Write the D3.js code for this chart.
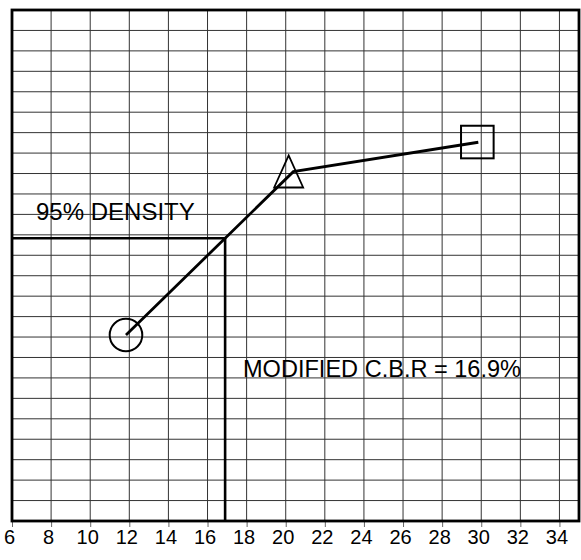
<!DOCTYPE html>
<html>
<head>
<meta charset="utf-8">
<script src="https://cdn.jsdelivr.net/npm/d3@7"></script>
<style>
  html, body { margin: 0; padding: 0; background: #fff; }
  svg { display: block; }
</style>
</head>
<body>
<svg id="chart" width="581" height="560"></svg>
<script>
// ---- data ----
const xTicks = [6, 8, 10, 12, 14, 16, 18, 20, 22, 24, 26, 28, 30, 32, 34];
const xDomain = [6, 35];
const yDomain = [0, 25];
const yGrid = d3.range(1, 25);
const xGrid = [8, 10, 12, 14, 16, 18, 20, 22, 24, 26, 28, 30, 32, 34];

// C.B.R curve (x = CBR %, y = density-axis grid units)
const curveX = [11.83, 20.39, 29.85];
const curveY = [9.1, 17.09, 18.53];
// marker centres and symbols
const markerX = [11.83, 20.15, 29.8];
const markerY = [9.1, 17.1, 18.54];
const markerType = ["circle", "triangle", "square"];

const densityLevel = 13.83;   // 95% density
const cbrValue = 16.9;        // modified CBR
const labelDensity = "95% DENSITY";
const labelCBR = "MODIFIED C.B.R = 16.9%";

// ---- layout ----
const svg = d3.select("#chart");
const L = 12, R = 579, T = 10, B = 521;
const x = d3.scaleLinear().domain(xDomain).range([L, R]);
const y = d3.scaleLinear().domain(yDomain).range([B, T]);

// grid
const g = svg.append("g");
g.selectAll("line.hg").data(yGrid).join("line")
  .attr("class", "hg")
  .attr("x1", L).attr("x2", R)
  .attr("y1", d => y(d)).attr("y2", d => y(d))
  .attr("stroke", "#333").attr("stroke-width", 1);
g.selectAll("line.vg").data(xGrid).join("line")
  .attr("class", "vg")
  .attr("x1", d => x(d)).attr("x2", d => x(d))
  .attr("y1", T).attr("y2", B)
  .attr("stroke", "#333").attr("stroke-width", 1);

// x axis
const axis = d3.axisBottom(x).tickValues(xTicks).tickSize(6).tickPadding(4)
  .tickFormat(d3.format("d"));
const ax = svg.append("g").attr("transform", `translate(0,${B})`).call(axis);
ax.select(".domain").remove();
ax.selectAll(".tick line").attr("stroke", "#666");
ax.selectAll(".tick text")
  .attr("font-family", "'Liberation Sans', Arial, sans-serif")
  .attr("font-size", 20)
  .attr("fill", "#000")
  .attr("x", -3)
  .attr("y", 23)
  .attr("dy", 0);

// 95% density and CBR lines
const refLine = [[xDomain[0], densityLevel], [cbrValue, densityLevel], [cbrValue, yDomain[0]]];
svg.append("path")
  .attr("d", d3.line().x(d => x(d[0])).y(d => y(d[1]))(refLine))
  .attr("fill", "none").attr("stroke", "#000").attr("stroke-width", 2.6);

// curve
const pts = curveX.map((v, i) => [v, curveY[i]]);
svg.append("path")
  .attr("d", d3.line().x(d => x(d[0])).y(d => y(d[1]))(pts))
  .attr("fill", "none").attr("stroke", "#000").attr("stroke-width", 2.8);

// markers
markerX.forEach((mx, i) => {
  const cx = x(mx), cy = y(markerY[i]);
  const t = markerType[i];
  if (t === "circle") {
    svg.append("circle").attr("cx", cx).attr("cy", cy).attr("r", 16.3)
      .attr("fill", "none").attr("stroke", "#000").attr("stroke-width", 2);
  } else if (t === "triangle") {
    const p = d3.path();
    p.moveTo(cx, cy - 16); p.lineTo(cx + 14.5, cy + 16); p.lineTo(cx - 14.5, cy + 16); p.closePath();
    svg.append("path").attr("d", p.toString())
      .attr("fill", "none").attr("stroke", "#000").attr("stroke-width", 1.8);
  } else {
    svg.append("rect").attr("x", cx - 16.3).attr("y", cy - 16.3)
      .attr("width", 32.6).attr("height", 32.6)
      .attr("fill", "none").attr("stroke", "#000").attr("stroke-width", 2);
  }
});

// frame
svg.append("rect").attr("x", L).attr("y", T).attr("width", R - L).attr("height", B - T)
  .attr("fill", "none").attr("stroke", "#000").attr("stroke-width", 2.8);

// labels
svg.append("text").attr("x", 36).attr("y", 220)
  .attr("font-family", "'Liberation Sans', Arial, sans-serif").attr("font-size", 24)
  .attr("fill", "#000").text(labelDensity);
svg.append("text").attr("x", 243).attr("y", 377)
  .attr("font-family", "'Liberation Sans', Arial, sans-serif").attr("font-size", 24)
  .attr("fill", "#000").attr("textLength", 278).attr("lengthAdjust", "spacingAndGlyphs")
  .text(labelCBR);
</script>
</body>
</html>
